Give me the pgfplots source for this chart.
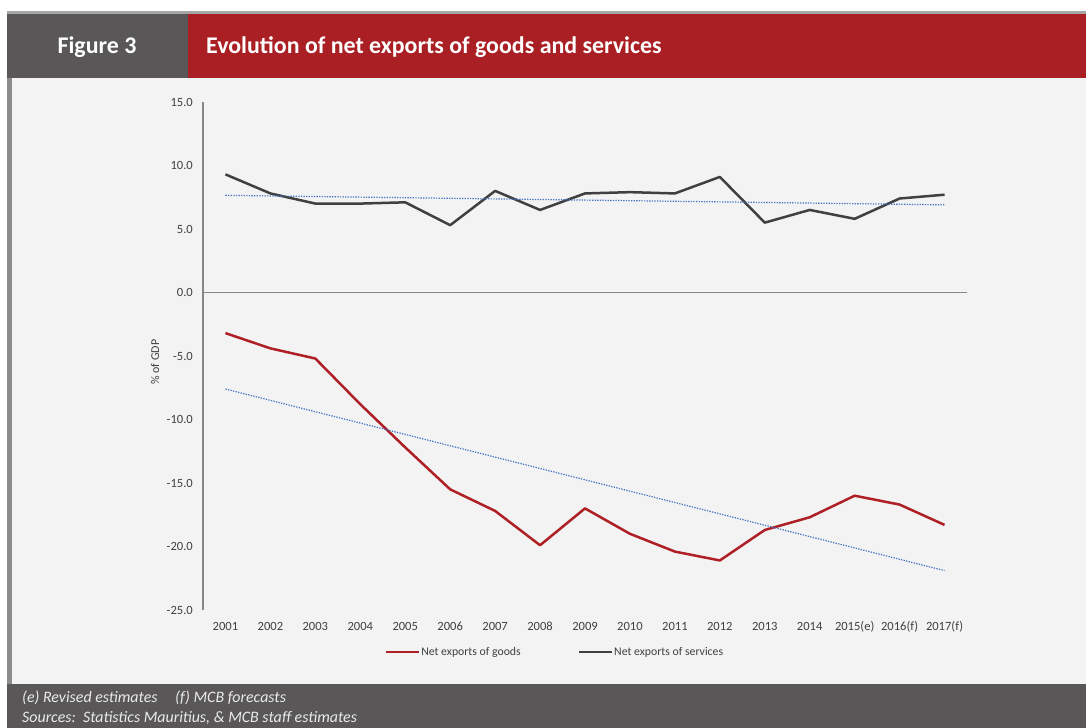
\documentclass[border=0pt]{standalone}
\usepackage{pgfplots}
\pgfplotsset{compat=1.18}
\usepackage{fontspec}
\setmainfont{Carlito}
\definecolor{hdrgray}{RGB}{89,87,88}
\definecolor{hdrred}{RGB}{170,31,36}
\definecolor{panel}{RGB}{243,243,243}
\definecolor{goods}{RGB}{174,32,38}
\definecolor{serv}{RGB}{64,64,64}
\definecolor{trend}{RGB}{68,114,196}
\definecolor{axisgray}{RGB}{134,134,134}
\definecolor{txt}{RGB}{64,64,64}
\begin{document}
\begin{tikzpicture}[x=1bp,y=1bp]
\path[use as bounding box] (0,0) rectangle (1086,728);
\fill[white] (0,0) rectangle (1086,728);
\fill[panel] (12,44) rectangle (1086,650);
\fill[black!35] (7,714) rectangle (1086,717);
\fill[black!45] (7,44) rectangle (12,650);
\fill[hdrgray] (7,650) rectangle (188,714);
\fill[hdrred] (188,650) rectangle (1086,714);
\fill[hdrgray] (7,0) rectangle (1086,44);
\node[white, inner sep=0, font=\fontsize{24}{28}\selectfont\bfseries] at (97,681) {Figure 3};
\node[white, anchor=west, inner sep=0, font=\fontsize{24}{28}\selectfont\bfseries] at (206,681) {Evolution of net exports of goods and services};
\node[anchor=base west, inner sep=0, font=\fontsize{16}{19}\selectfont\itshape, color=white!92!black] at (22,25) {(e) Revised estimates\hspace{1.1em}(f) MCB forecasts};
\node[anchor=base west, inner sep=0, font=\fontsize{16}{19}\selectfont\itshape, color=white!92!black] at (22,5) {Sources:\ \ Statistics Mauritius, \& MCB staff estimates};
\begin{axis}[
  at={(203bp,118bp)}, anchor=south west, scale only axis,
  width=764bp, height=508bp,
  xmin=0.5, xmax=17.5, ymin=-25, ymax=15,
  axis line style={draw=none},
  tick style={draw=none},
  ytick={-25,-20,-15,-10,-5,0,5,10,15},
  xtick={1,...,17},
  xticklabels={2001,2002,2003,2004,2005,2006,2007,2008,2009,2010,2011,2012,2013,2014,2015(e),2016(f),2017(f)},
  ticklabel style={font=\fontsize{12.6}{15}\selectfont, color=txt, inner sep=0pt},
  yticklabel style={anchor=east, xshift=-10bp},
  xticklabel style={anchor=base, yshift=-21bp},
  /pgf/number format/fixed, /pgf/number format/fixed zerofill, /pgf/number format/precision=1,
  /pgf/number format/assume math mode=true,
  ylabel={\% of GDP},
  every axis y label/.style={at={(axis description cs:-0.0628,0.488)}, rotate=90, anchor=center, font=\fontsize{12}{14}\selectfont, color=txt},
  legend style={at={(axis description cs:0.46,-0.0827)}, anchor=center, draw=none, fill=none, legend columns=2,
    /tikz/every even column/.append style={column sep=56bp},
    nodes={inner sep=1bp, font=\fontsize{11.8}{14}\selectfont, text=txt}},
  legend image code/.code={\draw[#1] (0bp,0bp) -- (33bp,0bp);},
  clip=false,
]
\draw[axisgray, line width=1.5bp] (axis cs:0.5,-25) -- (axis cs:0.5,15);
\draw[axisgray, line width=1.5bp] (axis cs:0.5,0) -- (axis cs:17.5,0);
\addplot[goods, line width=2.5bp, line join=round] coordinates {
 (1,-3.2) (2,-4.4) (3,-5.2) (4,-8.8) (5,-12.2) (6,-15.5) (7,-17.2) (8,-19.9) (9,-17.0)
 (10,-19.0) (11,-20.4) (12,-21.1) (13,-18.7) (14,-17.7) (15,-16.0) (16,-16.7) (17,-18.3)};
\addlegendentry{Net exports of goods}
\addplot[serv, line width=2.5bp, line join=round] coordinates {
 (1,9.3) (2,7.8) (3,7.0) (4,7.0) (5,7.1) (6,5.3) (7,8.0) (8,6.5) (9,7.8)
 (10,7.9) (11,7.8) (12,9.1) (13,5.5) (14,6.5) (15,5.8) (16,7.4) (17,7.7)};
\addlegendentry{Net exports of services}
\addplot[trend, line width=1.2bp, dash pattern=on 1.3bp off 1.3bp, forget plot] coordinates {(1,7.65) (17,6.9)};
\addplot[trend, line width=1.2bp, dash pattern=on 1.3bp off 1.3bp, forget plot] coordinates {(1,-7.6) (17,-21.9)};
\end{axis}
\end{tikzpicture}
\end{document}
